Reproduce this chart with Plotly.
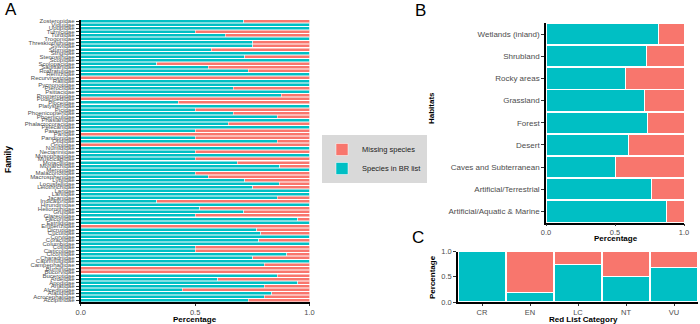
import plotly.graph_objects as go

# ---------------- data ----------------
families = [
    "Zosteropidae", "Viduidae", "Upupidae", "Turnicidae", "Turdidae", "Trogonidae",
    "Threskiornithidae", "Sylviidae", "Sturnidae", "Strigidae", "Stenostiridae",
    "Scopidae", "Scolopacidae", "Sagittariidae", "Rostratulidae", "Remizidae",
    "Recurvirostridae", "Rallidae", "Pycnonotidae", "Pteroclidae", "Psittacidae",
    "Promeropidae", "Podicipedidae", "Ploceidae", "Platysteiridae", "Picidae",
    "Phoenicopteridae", "Phoeniculidae", "Phasianidae", "Phalacrocoracidae",
    "Pelecanidae", "Passeridae", "Paridae", "Pandionidae", "Otididae", "Oriolidae",
    "Numididae", "Nectariniidae", "Musophagidae", "Muscicapidae", "Motacillidae",
    "Monarchidae", "Meropidae", "Malaconotidae", "Macrosphenidae", "Lybiidae",
    "Locustellidae", "Leiothrichidae", "Laridae", "Laniidae", "Jacanidae",
    "Indicatoridae", "Hirundinidae", "Heliornithidae", "Gruidae", "Glareolidae",
    "Falconidae", "Estrildidae", "Emberizidae", "Dicruridae", "Cuculidae",
    "Corvidae", "Coraciidae", "Columbidae", "Coliidae", "Cisticolidae",
    "Ciconiidae", "Charadriidae", "Caprimulgidae", "Campephagidae", "Burhinidae",
    "Bucorvidae", "Bucerotidae", "Ardeidae", "Apodidae", "Anatidae",
    "Alcedinidae", "Alaudidae", "Acrocephalidae", "Accipitridae",
]
family_in_list = [
    0.713, 1, 1, 0.5, 0.631, 1, 0.752, 0.752, 0.571, 1,
    0.716, 1, 0.332, 0.557, 0.732, 1, 0, 1, 1, 0.666,
    1, 0.877, 0, 0.427, 1, 0.5, 0.667, 0.859, 1, 0.644,
    1, 0.5, 0, 0.5, 0.859, 0, 1, 0.5, 1, 0.5,
    0.685, 0.869, 1, 0.5, 0.557, 0.716, 0.867, 0.752, 1, 1,
    0.859, 0.332, 1, 0.52, 0.713, 0.5, 0.948, 1, 0, 0.77,
    0.786, 1, 0.778, 1, 0.5, 0.5, 0.9, 0.752, 1, 0.803,
    0, 0, 0.859, 0.6, 0.948, 0.803, 0.443, 0.835, 0.803, 0.733,
]
family_missing = [round(1 - v, 3) for v in family_in_list]

habitats = [
    "Wetlands (inland)", "Shrubland", "Rocky areas", "Grassland", "Forest",
    "Desert", "Caves and Subterranean", "Artificial/Terrestrial",
    "Artificial/Aquatic & Marine",
]
habitat_in_list = [0.812, 0.727, 0.576, 0.715, 0.737, 0.6, 0.502, 0.763, 0.871]
habitat_missing = [round(1 - v, 3) for v in habitat_in_list]

redlist = ["CR", "EN", "LC", "NT", "VU"]
redlist_in_list = [1.0, 0.19, 0.75, 0.5, 0.68]
redlist_missing = [round(1 - v, 3) for v in redlist_in_list]

TEAL = "#00BFC4"
SALMON = "#F8766D"
FONT = "Liberation Sans, Arial, sans-serif"
W, H = 700, 324

fig = go.Figure()

# Panel A
fig.add_trace(go.Bar(y=families, x=family_in_list, orientation="h", name="Species in BR list",
                     marker=dict(color=TEAL, line=dict(color="white", width=0.5)),
                     width=0.85, xaxis="x", yaxis="y", legendrank=2))
fig.add_trace(go.Bar(y=families, x=family_missing, orientation="h", name="Missing species",
                     marker=dict(color=SALMON, line=dict(color="white", width=0.5)),
                     width=0.85, xaxis="x", yaxis="y", legendrank=1))
# Panel B
fig.add_trace(go.Bar(y=habitats, x=habitat_in_list, orientation="h", showlegend=False,
                     marker=dict(color=TEAL, line=dict(color="white", width=1)),
                     width=0.96, xaxis="x2", yaxis="y2"))
fig.add_trace(go.Bar(y=habitats, x=habitat_missing, orientation="h", showlegend=False,
                     marker=dict(color=SALMON, line=dict(color="white", width=1)),
                     width=0.96, xaxis="x2", yaxis="y2"))
# Panel C
fig.add_trace(go.Bar(x=redlist, y=redlist_in_list, showlegend=False,
                     marker=dict(color=TEAL, line=dict(color="white", width=1)),
                     width=0.98, xaxis="x3", yaxis="y3"))
fig.add_trace(go.Bar(x=redlist, y=redlist_missing, showlegend=False,
                     marker=dict(color=SALMON, line=dict(color="white", width=1)),
                     width=0.98, xaxis="x3", yaxis="y3"))


def px_x(a):
    return a / W


def px_y(a):
    return 1 - a / H


def axis_style(ticklen=2, size=7.5, linewidth=1.5):
    return dict(showline=True, linecolor="black", linewidth=linewidth, ticks="outside",
                ticklen=ticklen, tickcolor="#333333", tickwidth=1, showgrid=False,
                zeroline=False, tickfont=dict(family=FONT, size=size, color="#4d4d4d"))


fig.update_layout(
    width=W, height=H, margin=dict(l=0, r=0, t=0, b=0, autoexpand=False),
    paper_bgcolor="white", plot_bgcolor="white",
    barmode="stack",
    font=dict(family=FONT, color="black"),
    xaxis=dict(domain=[px_x(80.7), px_x(309.5)], range=[0, 1], anchor="y",
               tickmode="array", tickvals=[0, 0.5, 1], ticktext=["0.0", "0.5", "1.0"],
               **axis_style()),
    yaxis=dict(domain=[px_y(302), px_y(19.5)], anchor="x", autorange="reversed",
               tickmode="array", tickvals=families, ticktext=families,
               **axis_style(ticklen=3, size=6, linewidth=2)),
    xaxis2=dict(domain=[px_x(546), px_x(684)], range=[0, 1], anchor="y2",
                tickmode="array", tickvals=[0, 0.5, 1], ticktext=["0.0", "0.5", "1.0"],
                **axis_style()),
    yaxis2=dict(domain=[px_y(222.5), px_y(23)], anchor="x2", autorange="reversed",
                **axis_style(ticklen=3, size=8)),
    xaxis3=dict(domain=[px_x(458), px_x(698)], range=[-0.5, 4.5], anchor="y3",
                **axis_style()),
    yaxis3=dict(domain=[px_y(302), px_y(251.7)], range=[0, 1], anchor="x3",
                tickmode="array", tickvals=[0, 0.5, 1], ticktext=["0.0", "0.5", "1.0"],
                ticklabeloverflow="allow",
                **axis_style(ticklen=3)),
    legend=dict(x=px_x(322), y=px_y(159), xanchor="left", yanchor="middle",
                bgcolor="#d9d9d9", font=dict(family=FONT, size=7.5, color="#222"),
                traceorder="normal", itemwidth=30, tracegroupgap=0),
)

ann = []


def add_text(text, x, y, size=8.5, bold=True, angle=0, xanchor="center"):
    t = f"<b>{text}</b>" if bold else text
    ann.append(dict(text=t, x=px_x(x), y=px_y(y), xref="paper", yref="paper",
                    showarrow=False, textangle=angle, xanchor=xanchor, yanchor="middle",
                    font=dict(family=FONT, size=size, color="black")))


add_text("A", 11, 9, size=17, bold=False)
add_text("B", 420, 10, size=17, bold=False)
add_text("C", 418, 237, size=17, bold=False)
add_text("Family", 8, 160, angle=-90)
add_text("Percentage", 195, 319.5, size=8)
add_text("Habitats", 432, 108, angle=-90, size=8)
add_text("Percentage", 616, 239, size=8)
add_text("Percentage", 432, 277, angle=-90, size=8)
add_text("Red List Category", 583, 319.5, size=8)
fig.update_layout(annotations=ann)

fig.write_html("out.html")
